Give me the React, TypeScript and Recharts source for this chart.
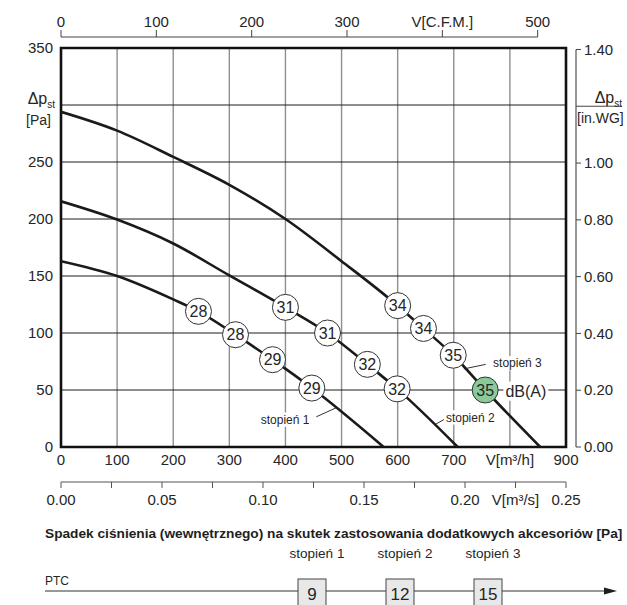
import React from 'react';
import {
  ComposedChart,
  Line,
  Scatter,
  XAxis,
  YAxis,
  CartesianGrid,
  ReferenceArea,
  ReferenceLine,
} from 'recharts';

// ---------- axis ticks & labels ----------
const FLOW_TICKS = [0, 100, 200, 300, 400, 500, 600, 700, 800, 900];
const FLOW_TICK_LABELS = ['0', '100', '200', '300', '400', '500', '600', '700', 'V[m³/h]', '900'];
const PRESSURE_TICKS = [0, 50, 100, 150, 200, 250, 300, 350];
const PRESSURE_TICK_LABELS = ['0', '50', '100', '150', '200', '250', '', '350'];
const CFM_TICKS = [0, 100, 200, 300, 400, 500];
const CFM_TICK_LABELS = ['0', '100', '200', '300', 'V[C.F.M.]', '500'];
const M3S_TICKS = [0, 0.025, 0.05, 0.075, 0.1, 0.125, 0.15, 0.175, 0.2, 0.225, 0.25];
const M3S_TICK_LABELS = ['0.00', '', '0.05', '', '0.10', '', '0.15', '', '0.20', 'V[m³/s]', '0.25'];
const INWG_TICKS = [0, 0.2, 0.4, 0.6, 0.8, 1.0, 1.2, 1.4];
const INWG_TICK_LABELS = ['0.00', '0.20', '0.40', '0.60', '0.80', '1.00', '', '1.40'];

const FLOW_MAX = 900;
const PRESSURE_MAX = 350;
const CFM_MAX = FLOW_MAX / 1.699;
const M3S_MAX = FLOW_MAX / 3600;
const INWG_MAX = PRESSURE_MAX / 249.089;
const CFM_LINE_END = 500;

// ---------- fan curves (V m3/h, Δp Pa) ----------
const STAGE1_FLOW = [0, 100, 200, 245, 311, 377, 447, 575];
const STAGE1_PRESSURE = [163, 150, 129.5, 119, 98.5, 76.6, 51.7, 0];
const STAGE2_FLOW = [0, 100, 200, 300, 400, 475, 546, 599, 707];
const STAGE2_PRESSURE = [215.5, 199.5, 178.5, 150.5, 122.5, 100, 72.5, 51, 0];
const STAGE3_FLOW = [0, 100, 200, 300, 400, 500, 600, 646, 699, 756, 854];
const STAGE3_PRESSURE = [294, 277.5, 254.5, 230, 200, 163, 124, 104, 80.5, 50, 0];

// ---------- sound level markers ----------
const MARKER_FLOW = [245, 311, 377, 447, 400, 475, 546, 599, 600, 646, 699, 756];
const MARKER_PRESSURE = [119, 98.5, 76.6, 51.7, 122.5, 100, 72.5, 51, 124, 104, 80.5, 50];
const MARKER_DB = [28, 28, 29, 29, 31, 31, 32, 32, 34, 34, 35, 35];
const MARKER_HIGHLIGHT = [false, false, false, false, false, false, false, false, false, false, false, true];

// ---------- annotations ----------
const ANNOTATION_TEXT = ['stopień 1', 'stopień 2', 'stopień 3', 'dB(A)'];
const ANNOTATION_FLOW = [356, 686, 770, 792];
const ANNOTATION_PRESSURE = [24, 26, 73.5, 49];
const LEADER_FROM_FLOW = [455, 666, 718];
const LEADER_FROM_PRESSURE = [26.5, 19.5, 68.5];
const LEADER_TO_FLOW = [490, 684, 757];
const LEADER_TO_PRESSURE = [34.3, 24.5, 72.5];

// ---------- PTC table ----------
const PTC_TITLE = 'Spadek ciśnienia (wewnętrznego) na skutek zastosowania dodatkowych akcesoriów [Pa]';
const PTC_NAME = 'PTC';
const PTC_STAGES = ['stopień 1', 'stopień 2', 'stopień 3'];
const PTC_DROP = [9, 12, 15];

const toRows = (q: number[], p: number[]) => q.map((v, i) => ({ q: v, p: p[i] }));
const stage1 = toRows(STAGE1_FLOW, STAGE1_PRESSURE);
const stage2 = toRows(STAGE2_FLOW, STAGE2_PRESSURE);
const stage3 = toRows(STAGE3_FLOW, STAGE3_PRESSURE);
const markers = MARKER_FLOW.map((q, i) => ({ q, p: MARKER_PRESSURE[i], db: MARKER_DB[i], hi: MARKER_HIGHLIGHT[i] }));
const annotations = ANNOTATION_TEXT.map((t, i) => ({ q: ANNOTATION_FLOW[i], p: ANNOTATION_PRESSURE[i], t }));
// anchor rows so the secondary axes have data extents
const cfmExtent = [{ c: 0, p: 0 }, { c: CFM_MAX, p: 0 }];
const m3sExtent = [{ s: 0, p: 0 }, { s: M3S_MAX, p: 0 }];

const FONT = '"Liberation Sans", Arial, Helvetica, sans-serif';
const INK = '#262626';
const PLOT_W = 505;
const PLOT_H = 399;
const TOP_AXIS_PA = PRESSURE_MAX + 11 * (PRESSURE_MAX / PLOT_H);
const RIGHT_AXIS_FLOW = FLOW_MAX + 10 * (FLOW_MAX / PLOT_W);

let ctx: CanvasRenderingContext2D | null = null;
function textWidth(s: string, size: number) {
  if (!ctx) ctx = document.createElement('canvas').getContext('2d');
  if (!ctx) return s.length * size * 0.5;
  ctx.font = `${size}px "Liberation Sans"`;
  return ctx.measureText(s).width;
}

const Nothing = () => <g />;

const PaTick = (props: any) => {
  const { x, y, index } = props;
  const label = PRESSURE_TICK_LABELS[index];
  if (PRESSURE_TICKS[index] === 300) {
    return (
      <g fontFamily={FONT} fill={INK}>
        <text x={x - 6} y={y - 7} dy="0.35em" textAnchor="end" fontSize={16}>
          Δp<tspan fontSize={10} dy={4}>st</tspan>
        </text>
        <text x={x - 10} y={y + 15} dy="0.35em" textAnchor="end" fontSize={14}>[Pa]</text>
      </g>
    );
  }
  return (
    <text x={x - 8} y={y} dy="0.35em" textAnchor="end" fontSize={15} fontFamily={FONT} fill={INK}>
      {label}
    </text>
  );
};

const InwgTick = (props: any) => {
  const { x, y, index } = props;
  const ax = x + 10;
  if (INWG_TICKS[index] === 1.2) {
    return (
      <g fontFamily={FONT} fill={INK}>
        <line x1={ax} y1={y} x2={ax + 46} y2={y} stroke="#444" strokeWidth={1} />
        <text x={ax + 46} y={y - 9} dy="0.35em" textAnchor="end" fontSize={16}>
          Δp<tspan fontSize={10} dy={4}>st</tspan>
        </text>
        <text x={ax + 1} y={y + 11.5} dy="0.35em" textAnchor="start" fontSize={14}>[in.WG]</text>
      </g>
    );
  }
  return (
    <g>
      <line x1={ax} y1={y} x2={ax + 5} y2={y} stroke="#444" strokeWidth={1} />
      <text x={ax + 8} y={y} dy="0.35em" textAnchor="start" fontSize={15} fontFamily={FONT} fill={INK}>
        {INWG_TICK_LABELS[index]}
      </text>
    </g>
  );
};

const FlowTick = (props: any) => {
  const { x, y, index } = props;
  return (
    <text x={x} y={y + 13} dy="0.35em" textAnchor="middle" fontSize={15} fontFamily={FONT} fill={INK}>
      {FLOW_TICK_LABELS[index]}
    </text>
  );
};

const M3sTick = (props: any) => {
  const { x, y, index } = props;
  const label = M3S_TICK_LABELS[index];
  return (
    <g>
      <line x1={x} y1={y} x2={x} y2={y + 6} stroke="#555" strokeWidth={1} />
      {label ? (
        <text x={x} y={y + 18} dy="0.35em" textAnchor="middle" fontSize={15} fontFamily={FONT} fill={INK}>
          {label}
        </text>
      ) : null}
    </g>
  );
};

const CfmTick = (props: any) => {
  const { x, y, index } = props;
  return (
    <g>
      <line x1={x} y1={y - 11} x2={x} y2={y - 18} stroke="#444" strokeWidth={1} />
      <text x={x} y={y - 26.5} dy="0.35em" textAnchor="middle" fontSize={15} fontFamily={FONT} fill={INK}>
        {CFM_TICK_LABELS[index]}
      </text>
    </g>
  );
};

const MarkerShape = (props: any) => {
  const { cx, cy, payload } = props;
  if (cx == null || cy == null) return null;
  return (
    <g>
      <circle cx={cx} cy={cy} r={13} fill={payload.hi ? '#8bc99b' : '#ffffff'} stroke="#333" strokeWidth={1} />
      <text x={cx} y={cy} dy="0.36em" textAnchor="middle" fontSize={16} fontFamily={FONT} fill={INK}>
        {payload.db}
      </text>
    </g>
  );
};

const AnnotationShape = (props: any) => {
  const { cx, cy, payload } = props;
  if (cx == null || cy == null) return null;
  const size = payload.t === 'dB(A)' ? 16 : 12;
  const w = textWidth(payload.t, size);
  return (
    <g>
      <rect x={cx - 2} y={cy - size * 0.6} width={w + 4} height={size * 1.2} fill="#ffffff" />
      <text x={cx} y={cy} dy="0.35em" textAnchor="start" fontSize={size} fontFamily={FONT} fill={INK}>
        {payload.t}
      </text>
    </g>
  );
};

const PtcBlock = () => {
  const boxStart = 312;
  const labelStart = 317;
  const step = 88;
  return (
    <svg
      width={627}
      height={605}
      style={{ position: 'absolute', left: 0, top: 0, pointerEvents: 'none' }}
      fontFamily={FONT}
    >
      <text x={45} y={533.5} dy="0.35em" fontSize={13.7} fontWeight="bold" fill="#1e1e1e">
        {PTC_TITLE}
      </text>
      <text x={45} y={581} dy="0.35em" fontSize={12} fill={INK}>
        {PTC_NAME}
      </text>
      <line x1={45} y1={591} x2={606} y2={591} stroke="#333" strokeWidth={1.2} />
      <polygon points="604,587.5 617,591 604,594.5" fill="#1e1e1e" />
      {PTC_STAGES.map((s, i) => (
        <text key={s} x={labelStart + i * step} y={553} dy="0.35em" textAnchor="middle" fontSize={13.5} fill={INK}>
          {s}
        </text>
      ))}
      {PTC_DROP.map((v, i) => (
        <g key={i}>
          <rect x={boxStart + i * step - 14} y={579} width={28} height={32} fill="#e8e8e8" stroke="#444" strokeWidth={1} />
          <text x={boxStart + i * step} y={594} dy="0.36em" textAnchor="middle" fontSize={17} fill={INK}>
            {v}
          </text>
        </g>
      ))}
    </svg>
  );
};

export default function App() {
  return (
    <div style={{ position: 'absolute', left: 0, top: 0, width: 627, height: 605, background: '#fff' }}>
      <ComposedChart width={627} height={605} margin={{ top: 0, right: 0, bottom: 63, left: 0 }}>
        <XAxis
          xAxisId="cfm"
          orientation="top"
          dataKey="c"
          type="number"
          domain={[0, CFM_MAX]}
          ticks={CFM_TICKS}
          interval={0}
          height={48}
          axisLine={false}
          tickLine={false}
          tickSize={0}
          tickMargin={0}
          tick={<CfmTick />}
          allowDataOverflow
        />
        <XAxis
          xAxisId="mh"
          orientation="bottom"
          dataKey="q"
          type="number"
          domain={[0, FLOW_MAX]}
          ticks={FLOW_TICKS}
          interval={0}
          height={35}
          axisLine={false}
          tickLine={false}
          tickSize={0}
          tickMargin={0}
          tick={<FlowTick />}
          allowDataOverflow
        />
        <XAxis
          xAxisId="ms"
          orientation="bottom"
          dataKey="s"
          type="number"
          domain={[0, M3S_MAX]}
          ticks={M3S_TICKS}
          interval={0}
          height={60}
          axisLine={{ stroke: '#555', strokeWidth: 1.2 }}
          tickLine={false}
          tickSize={0}
          tickMargin={0}
          tick={<M3sTick />}
          allowDataOverflow
        />
        <YAxis
          yAxisId="pa"
          orientation="left"
          dataKey="p"
          type="number"
          domain={[0, PRESSURE_MAX]}
          ticks={PRESSURE_TICKS}
          interval={0}
          width={61}
          axisLine={false}
          tickLine={false}
          tickSize={0}
          tickMargin={0}
          tick={<PaTick />}
          allowDataOverflow
        />
        <YAxis
          yAxisId="inwg"
          orientation="right"
          type="number"
          domain={[0, INWG_MAX]}
          ticks={INWG_TICKS}
          interval={0}
          width={61}
          axisLine={false}
          tickLine={false}
          tickSize={0}
          tickMargin={0}
          tick={<InwgTick />}
          allowDataOverflow
        />
        <CartesianGrid xAxisId="mh" yAxisId="pa" horizontal={false} stroke="#8f8f8f" strokeWidth={1.4} />
        <CartesianGrid xAxisId="mh" yAxisId="pa" vertical={false} stroke="#1c1c1c" strokeWidth={1} />
        <ReferenceArea
          xAxisId="mh"
          yAxisId="pa"
          x1={0}
          x2={FLOW_MAX}
          y1={0}
          y2={PRESSURE_MAX}
          fill="none"
          fillOpacity={0}
          stroke="#111"
          strokeWidth={2.6}
          ifOverflow="visible"
        />
        <ReferenceLine
          xAxisId="cfm"
          yAxisId="pa"
          segment={[
            { x: 0, y: TOP_AXIS_PA },
            { x: CFM_LINE_END, y: TOP_AXIS_PA },
          ]}
          stroke="#444"
          strokeWidth={1.2}
          ifOverflow="visible"
        />
        <ReferenceLine
          xAxisId="mh"
          yAxisId="inwg"
          segment={[
            { x: RIGHT_AXIS_FLOW, y: 0 },
            { x: RIGHT_AXIS_FLOW, y: 1.4 },
          ]}
          stroke="#555"
          strokeWidth={1.2}
          ifOverflow="visible"
        />
        {LEADER_FROM_FLOW.map((q, i) => (
          <ReferenceLine
            key={'leader' + i}
            xAxisId="mh"
            yAxisId="pa"
            segment={[
              { x: q, y: LEADER_FROM_PRESSURE[i] },
              { x: LEADER_TO_FLOW[i], y: LEADER_TO_PRESSURE[i] },
            ]}
            stroke="#333"
            strokeWidth={1}
            ifOverflow="visible"
          />
        ))}
        <Scatter xAxisId="cfm" yAxisId="pa" data={cfmExtent} dataKey="p" shape={<Nothing />} isAnimationActive={false} />
        <Scatter xAxisId="ms" yAxisId="pa" data={m3sExtent} dataKey="p" shape={<Nothing />} isAnimationActive={false} />
        <Line xAxisId="mh" yAxisId="pa" data={stage1} dataKey="p" type="monotone" stroke="#1a1a1a" strokeWidth={2.6} dot={false} isAnimationActive={false} />
        <Line xAxisId="mh" yAxisId="pa" data={stage2} dataKey="p" type="monotone" stroke="#1a1a1a" strokeWidth={2.6} dot={false} isAnimationActive={false} />
        <Line xAxisId="mh" yAxisId="pa" data={stage3} dataKey="p" type="monotone" stroke="#1a1a1a" strokeWidth={2.6} dot={false} isAnimationActive={false} />
        <Scatter xAxisId="mh" yAxisId="pa" data={annotations} dataKey="p" shape={<AnnotationShape />} isAnimationActive={false} />
        <Scatter xAxisId="mh" yAxisId="pa" data={markers} dataKey="p" shape={<MarkerShape />} isAnimationActive={false} />
      </ComposedChart>
      <PtcBlock />
    </div>
  );
}
